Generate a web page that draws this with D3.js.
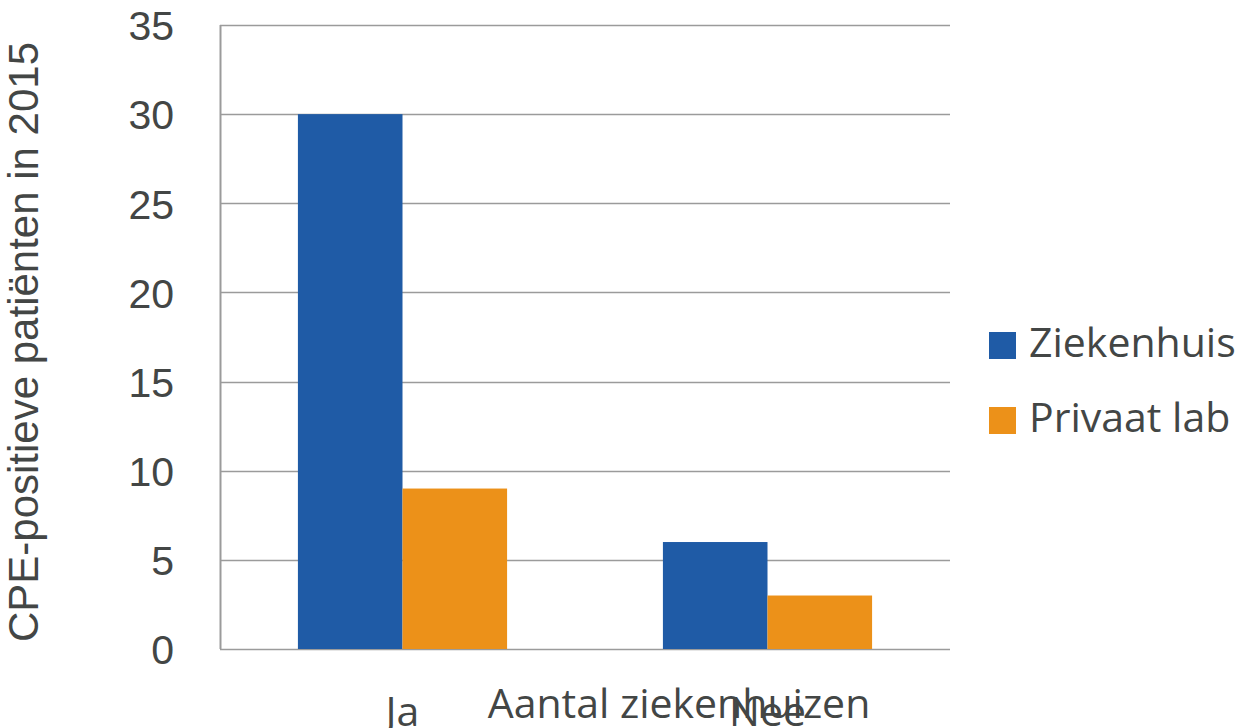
<!DOCTYPE html>
<html>
<head>
<meta charset="utf-8">
<script src="https://cdn.jsdelivr.net/npm/d3@7"></script>
<style>
  body { margin: 0; background: #fff; }
  svg { display: block; }
</style>
</head>
<body>
<div id="chart"></div>
<script>
// chart data
const categories = ["Ja", "Nee"]
const seriesNames = ["Ziekenhuis", "Privaat lab"]
const ziekenhuis = [30, 6]
const privaatLab = [9, 3]
const yTicks = [0, 5, 10, 15, 20, 25, 30, 35]

const width = 1239
const height = 728
const margin = { top: 25, right: 289, bottom: 79, left: 220 }

const colors = ["#1f5ba6", "#ec9119"]
const textColor = "#434645"

let svg = d3.select("#chart")
  .append("svg")
  .attr("width", width)
  .attr("height", height)

const innerW = width - margin.left - margin.right
const innerH = height - margin.top - margin.bottom

let g = svg.append("g")
  .attr("transform", `translate(${margin.left}, ${margin.top})`)

const x0 = d3.scaleBand().domain(categories).range([0, innerW]).paddingInner(0).paddingOuter(0)
const x1 = d3.scaleBand().domain(seriesNames).range([0, x0.bandwidth()]).paddingInner(0).paddingOuter(0.745)
const y = d3.scaleLinear().domain([0, 35]).range([innerH, 0])

// gridlines
g.append("g")
  .selectAll("line")
  .data(yTicks)
  .enter().append("line")
  .attr("x1", 0)
  .attr("x2", innerW)
  .attr("y1", d => Math.round(y(d)) + 0.5)
  .attr("y2", d => Math.round(y(d)) + 0.5)
  .attr("stroke", "#9b9b9b")
  .attr("stroke-width", 1.5)

// left axis line
g.append("line")
  .attr("x1", 0.5).attr("x2", 0.5)
  .attr("y1", 0).attr("y2", innerH)
  .attr("stroke", "#9b9b9b")
  .attr("stroke-width", 2)

// bars
const rows = categories.map((c, i) => ({ cat: c, values: [ziekenhuis[i], privaatLab[i]] }))

g.selectAll(".cat")
  .data(rows)
  .enter().append("g")
  .attr("transform", d => `translate(${x0(d.cat)}, 0)`)
  .selectAll("rect")
  .data(d => d.values.map((v, i) => ({ name: seriesNames[i], value: v, i: i })))
  .enter().append("rect")
  .attr("x", d => x1(d.name))
  .attr("width", x1.bandwidth())
  .attr("y", d => y(d.value))
  .attr("height", d => innerH - y(d.value))
  .attr("fill", d => colors[d.i])

// y tick labels
const yAxis = d3.axisLeft(y).tickValues(yTicks).tickSize(0).tickPadding(46)
let ya = g.append("g").call(yAxis)
ya.select(".domain").remove()
ya.selectAll("text")
  .style("font-family", "'Liberation Sans', Arial, sans-serif")
  .style("font-size", "41px")
  .attr("fill", textColor)
  .attr("dy", "0.36em")

// x category labels
g.selectAll(".catlabel")
  .data(categories)
  .enter().append("text")
  .attr("x", d => x0(d) + x0.bandwidth() / 2)
  .attr("y", innerH + 77)
  .attr("text-anchor", "middle")
  .style("font-family", "'Open Sans', sans-serif")
  .style("font-size", "41px")
  .attr("fill", textColor)
  .text(d => d)

// x axis title
svg.append("text")
  .attr("x", 679)
  .attr("y", 718)
  .attr("text-anchor", "middle")
  .style("font-family", "'Open Sans', sans-serif")
  .style("font-size", "41px")
  .attr("fill", textColor)
  .text("Aantal ziekenhuizen")

// y axis title
svg.append("text")
  .attr("transform", "translate(38, 342) rotate(-90)")
  .attr("text-anchor", "middle")
  .style("font-family", "'Liberation Sans', Arial, sans-serif")
  .style("font-size", "42px")
  .attr("fill", textColor)
  .text("CPE-positieve patiënten in 2015")

// legend
let legend = svg.append("g").attr("transform", "translate(989, 332)")
legend.selectAll("g")
  .data(seriesNames)
  .enter().append("g")
  .attr("transform", (d, i) => `translate(0, ${i * 75})`)
  .each(function(d, i) {
    let item = d3.select(this)
    item.append("rect")
      .attr("width", 27).attr("height", 27)
      .attr("fill", colors[i])
    item.append("text")
      .attr("x", 40)
      .attr("y", 25)
      .style("font-family", "'Open Sans', sans-serif")
      .style("font-size", "41px")
      .attr("fill", textColor)
      .text(d)
  })
</script>
</body>
</html>
